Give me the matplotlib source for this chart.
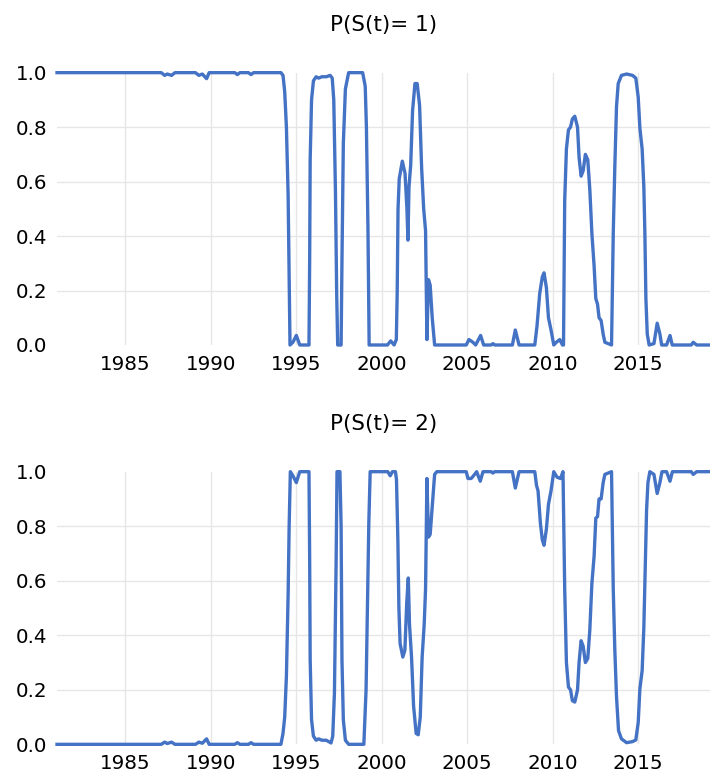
import matplotlib
matplotlib.use("Agg")
import matplotlib.pyplot as plt

# ---- data ----
dates1 = [1981.0, 1987.1, 1987.3, 1987.45, 1987.7, 1987.9, 1989.1, 1989.3, 1989.5, 1989.75, 1989.9,
          1991.4, 1991.55, 1991.7, 1992.2, 1992.35, 1992.5, 1994.1, 1994.22, 1994.32, 1994.42,
          1994.52, 1994.57, 1994.63, 1994.8, 1995.0, 1995.2, 1995.74, 1995.78, 1995.81, 1995.89,
          1996.0, 1996.16, 1996.3, 1996.5, 1996.75, 1996.98, 1997.1, 1997.19, 1997.29, 1997.36,
          1997.42, 1997.62, 1997.67, 1997.75, 1997.87, 1998.06, 1998.88, 1999.03, 1999.1, 1999.19,
          1999.26, 2000.33, 2000.52, 2000.72, 2000.85, 2000.9, 2000.95, 2001.02, 2001.2, 2001.36,
          2001.47, 2001.53, 2001.59, 2001.69, 2001.8, 2001.94, 2002.07, 2002.21, 2002.33, 2002.45,
          2002.56, 2002.64, 2002.73, 2002.83, 2002.95, 2003.09, 2004.94, 2005.1, 2005.33, 2005.49,
          2005.78, 2005.96, 2006.4, 2006.5, 2006.6, 2007.64, 2007.81, 2008.03, 2008.95, 2009.08,
          2009.24, 2009.39, 2009.49, 2009.63, 2009.75, 2009.9, 2010.06, 2010.21, 2010.41, 2010.57,
          2010.63, 2010.7, 2010.8, 2010.92, 2011.04, 2011.15, 2011.29, 2011.45, 2011.54, 2011.66,
          2011.78, 2011.91, 2012.05, 2012.17, 2012.29, 2012.42, 2012.52, 2012.62, 2012.71, 2012.83,
          2012.95, 2013.05, 2013.44, 2013.54, 2013.63, 2013.73, 2013.83, 2014.02, 2014.32, 2014.67,
          2014.86, 2015.0, 2015.1, 2015.23, 2015.33, 2015.39, 2015.45, 2015.53, 2015.64, 2015.92,
          2016.11, 2016.27, 2016.37, 2016.66, 2016.86, 2016.99, 2018.1, 2018.22, 2018.42, 2019.2]
p1 = [1.0, 1.0, 0.99, 0.995, 0.99, 1.0, 1.0, 0.99, 0.995, 0.978, 1.0,
      1.0, 0.993, 1.0, 1.0, 0.993, 1.0, 1.0, 0.99, 0.93, 0.80,
      0.55, 0.31, 0.0, 0.01, 0.035, 0.0, 0.0, 0.31, 0.68, 0.90,
      0.97, 0.985, 0.98, 0.985, 0.985, 0.99, 0.98, 0.90, 0.56, 0.19,
      0.0, 0.0, 0.31, 0.74, 0.94, 1.0, 1.0, 0.95, 0.80, 0.43,
      0.0, 0.0, 0.015, 0.0, 0.02, 0.19, 0.50, 0.61, 0.675, 0.63,
      0.50, 0.385, 0.58, 0.66, 0.86, 0.96, 0.96, 0.88, 0.65, 0.50,
      0.42, 0.02, 0.24, 0.22, 0.10, 0.0, 0.0, 0.02, 0.01, 0.0,
      0.035, 0.0, 0.0, 0.005, 0.0, 0.0, 0.055, 0.0, 0.0, 0.07,
      0.19, 0.25, 0.265, 0.21, 0.10, 0.055, 0.0, 0.01, 0.02, 0.0,
      0.0, 0.53, 0.72, 0.79, 0.80, 0.83, 0.84, 0.80, 0.69, 0.62,
      0.64, 0.70, 0.68, 0.57, 0.41, 0.29, 0.17, 0.15, 0.10, 0.09,
      0.04, 0.01, 0.0, 0.41, 0.65, 0.875, 0.96, 0.99, 0.995, 0.99,
      0.98, 0.91, 0.795, 0.72, 0.58, 0.41, 0.17, 0.04, 0.0, 0.005,
      0.08, 0.04, 0.0, 0.0, 0.035, 0.0, 0.0, 0.01, 0.0, 0.0]

dates2 = [1981.0, 1987.1, 1987.3, 1987.45, 1987.7, 1987.9, 1989.1, 1989.3, 1989.5, 1989.75, 1989.9,
          1991.4, 1991.55, 1991.7, 1992.2, 1992.35, 1992.5, 1994.1, 1994.22, 1994.32, 1994.42,
          1994.52, 1994.58, 1994.65, 1994.8, 1995.0, 1995.2, 1995.74, 1995.78, 1995.81, 1995.89,
          1996.0, 1996.16, 1996.3, 1996.5, 1996.75, 1997.03, 1997.13, 1997.23, 1997.33, 1997.38,
          1997.55, 1997.62, 1997.67, 1997.75, 1997.87, 1998.06, 1998.95, 1999.08, 1999.24, 1999.32,
          2000.35, 2000.49, 2000.62, 2000.8, 2000.86, 2000.94, 2001.0, 2001.07, 2001.23, 2001.35,
          2001.46, 2001.55, 2001.62, 2001.74, 2001.86, 2002.01, 2002.13, 2002.25, 2002.36, 2002.48,
          2002.56, 2002.64, 2002.73, 2002.83, 2002.95, 2003.09, 2003.22, 2004.94, 2005.04, 2005.23,
          2005.43, 2005.55, 2005.76, 2005.92, 2006.4, 2006.5, 2006.6, 2007.64, 2007.81, 2008.03,
          2008.95, 2009.05, 2009.14, 2009.28, 2009.39, 2009.49, 2009.63, 2009.75, 2009.9, 2010.06,
          2010.25, 2010.45, 2010.6, 2010.7, 2010.8, 2010.92, 2011.04, 2011.15, 2011.29, 2011.45,
          2011.54, 2011.66, 2011.78, 2011.91, 2012.05, 2012.17, 2012.29, 2012.42, 2012.52, 2012.62,
          2012.71, 2012.83, 2012.95, 2013.05, 2013.44, 2013.54, 2013.63, 2013.73, 2013.85, 2014.02,
          2014.32, 2014.67, 2014.86, 2015.0, 2015.1, 2015.23, 2015.33, 2015.41, 2015.49, 2015.57,
          2015.68, 2015.92, 2016.11, 2016.27, 2016.39, 2016.66, 2016.86, 2017.0, 2018.1, 2018.22,
          2018.42, 2019.2]
p2 = [0.0, 0.0, 0.008, 0.003, 0.008, 0.0, 0.0, 0.008, 0.004, 0.02, 0.0,
      0.0, 0.006, 0.0, 0.0, 0.006, 0.0, 0.0, 0.04, 0.10, 0.25,
      0.55, 0.80, 1.0, 0.985, 0.96, 1.0, 1.0, 0.68, 0.31, 0.09,
      0.03, 0.015, 0.02, 0.015, 0.015, 0.005, 0.03, 0.19, 0.68, 1.0,
      1.0, 0.80, 0.31, 0.09, 0.015, 0.0, 0.0, 0.2, 0.81, 1.0,
      1.0, 0.985, 1.0, 1.0, 0.97, 0.75, 0.50, 0.37, 0.32, 0.345,
      0.52, 0.61, 0.44, 0.32, 0.14, 0.04, 0.035, 0.10, 0.32, 0.44,
      0.57, 0.975, 0.76, 0.77, 0.87, 0.99, 1.0, 1.0, 0.975, 0.975,
      0.99, 1.0, 0.965, 1.0, 1.0, 0.995, 1.0, 1.0, 0.94, 1.0,
      1.0, 0.95, 0.93, 0.81, 0.75, 0.73, 0.79, 0.88, 0.93, 1.0,
      0.98, 0.975, 1.0, 0.57, 0.30, 0.21, 0.20, 0.16, 0.155, 0.20,
      0.30, 0.38, 0.36, 0.30, 0.315, 0.42, 0.59, 0.69, 0.83, 0.835,
      0.90, 0.90, 0.96, 0.99, 1.0, 0.57, 0.35, 0.175, 0.05, 0.02,
      0.006, 0.01, 0.016, 0.08, 0.205, 0.27, 0.43, 0.65, 0.86, 0.96,
      1.0, 0.99, 0.92, 0.96, 1.0, 1.0, 0.965, 1.0, 1.0, 0.99,
      1.0, 1.0]

titles = ["P(S(t)= 1)", "P(S(t)= 2)"]
xticks = [1985, 1990, 1995, 2000, 2005, 2010, 2015]
yticks = [0.0, 0.2, 0.4, 0.6, 0.8, 1.0]

LINE = "#4472C4"
GRID = "#E6E6E6"

fig = plt.figure(figsize=(7.10, 7.73), dpi=100)
positions = [[0.0803, 0.5537, 0.9197, 0.3523], [0.0803, 0.0371, 0.9197, 0.3527]]
series = [(dates1, p1), (dates2, p2)]

for pos, (d, p), title in zip(positions, series, titles):
    ax = fig.add_axes(pos)
    ax.plot(d, p, color=LINE, lw=2.4, clip_on=False, solid_joinstyle="round", zorder=3)
    ax.set_xlim(1981.0, 2019.2)
    ax.set_ylim(0, 1)
    ax.set_xticks(xticks)
    ax.set_yticks(yticks)
    ax.set_xticklabels([str(x) for x in xticks])
    ax.set_yticklabels([f"{y:.1f}" for y in yticks])
    for s in ax.spines.values():
        s.set_visible(False)
    ax.tick_params(axis="both", length=0, labelsize=14.3, colors="#000000")
    ax.tick_params(axis="y", pad=7)
    ax.tick_params(axis="x", pad=7)
    ax.grid(True, color=GRID, lw=1.0, zorder=0)
    ax.set_axisbelow(True)
    ygl = ax.get_ygridlines()
    ygl[0].set_visible(False)
    ygl[-1].set_visible(False)
    ax.set_title(title, fontsize=15.5, pad=30, color="#000000")

fig.savefig("out.png", dpi=100)
